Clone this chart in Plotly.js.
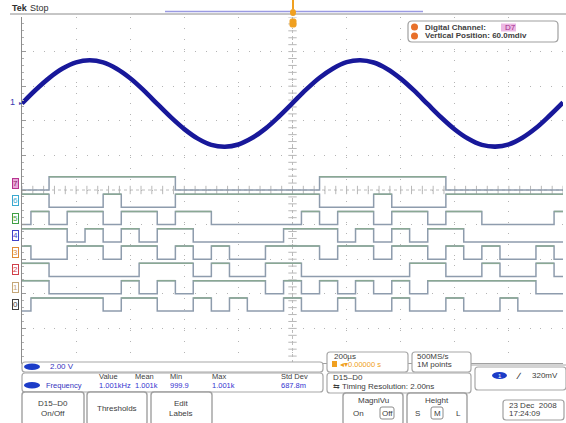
<!DOCTYPE html>
<html>
<head>
<meta charset="utf-8">
<script src="https://cdn.plot.ly/plotly-3.0.1.min.js"></script>
<style>
  html, body { margin: 0; padding: 0; background: #ffffff; }
  #scope { width: 566px; height: 423px; }
</style>
</head>
<body>
<div id="scope"></div>
<script>
// ---- Channel 1 (analog), 200 µs/div, 2.00 V/div ----
const ch1TimesMs = [];
for (let i = 0; i <= 40; i++) ch1TimesMs.push(-1 + i * 0.05);
const ch1Volts = [0.00, 0.78, 1.47, 2.02, 2.38, 2.50, 2.38, 2.01, 1.46, 0.76,
                  -0.02, -0.79, -1.48, -2.03, -2.39, -2.50, -2.37, -2.00, -1.45, -0.75,
                  0.02, 0.80, 1.49, 2.03, 2.39, 2.50, 2.37, 2.00, 1.44, 0.74,
                  -0.04, -0.81, -1.50, -2.04, -2.39, -2.49, -2.36, -1.98, -1.42, -0.71, 0.06];
const ch1VoltsPerDiv = 2.0;
const ch1PositionDiv = 2.5;

// ---- Digital channels D7..D0: level at the left edge, then edge times (µs) ----
const digitalNames = ['7', '6', '5', '4', '3', '2', '1', '0'];
const digitalColors = ['#b8338f', '#3aa9d0', '#3f9f45', '#4343c8', '#e08a35', '#d0404a', '#c4a678', '#404040'];
const d7Start = 0, d7Edges = [-900, -433, 100, 567];
const d6Start = 1, d6Edges = [-900, -700, -633, -433, 100, 300, 367, 567];
const d5Start = 0, d5Edges = [-967, -900, -833, -700, -633, -500, -433, -300, 33, 100, 167, 300, 367, 500, 567, 700, 967];
const d4Start = 1, d4Edges = [-833, -767, -700, -633, -567, -500, -367, -33, 167, 233, 300, 367, 433, 500, 633];
const d3Start = 1, d3Edges = [-967, -833, -700, -633, -500, -433, -367, -300, -233, -100, 100, 167, 300, 367, 500, 567, 633, 700, 767, 900, 967];
const d2Start = 1, d2Edges = [-900, -567, -367, -300, -233, -100, 33, 433, 567, 700, 767, 900, 967];
const d1Start = 1, d1Edges = [-900, -633, -567, -500, -433, -367, -100, -33, 33, 100, 167, 233, 300, 367, 433, 500, 900];
const d0Start = 0, d0Edges = [-967, -700, -633, -500, -367, -300, -233, -167, -33, 33, 167, 233, 367, 433, 567, 633, 767, 833];
const digitalStarts = [d7Start, d6Start, d5Start, d4Start, d3Start, d2Start, d1Start, d0Start];
const digitalEdges = [d7Edges, d6Edges, d5Edges, d4Edges, d3Edges, d2Edges, d1Edges, d0Edges];

// ---- Measurement readout ----
const measHeaders = ['Value', 'Mean', 'Min', 'Max', 'Std Dev'];
const measValues = ['1.001kHz', '1.001k', '999.9', '1.001k', '687.8m'];

// ---- display geometry (pixels) ----
const L = 22, R = 563, T = 17, B = 363;
const FONT = 'Liberation Sans, Arial, sans-serif';
const px = x => (x - L) / (R - L);
const py = y => (B - y) / (B - T);
const laneStep = 0.5, laneSwing = 0.38;

const traces = [];

// centre crosshair minor ticks
const vtY = [], vtX = [];
for (let i = 0; i <= 50; i++) { vtY.push(-5 + i * 0.2); vtX.push(0); }
traces.push({x: vtX, y: vtY, mode: 'markers', hoverinfo: 'skip',
  marker: {symbol: 'line-ew', size: 6, line: {color: '#b8b8b8', width: 1}}});
const htX = [], htY = [];
for (let i = 0; i <= 50; i++) { htX.push(-1 + i * 0.04); htY.push(0); }
traces.push({x: htX, y: htY, mode: 'markers', hoverinfo: 'skip',
  marker: {symbol: 'line-ns', size: 6, line: {color: '#b8b8b8', width: 1}}});

// digital step waveforms
digitalEdges.forEach((edges, i) => {
  const low = -i * laneStep;
  let lvl = digitalStarts[i];
  const xs = [-1], ys = [low + lvl * laneSwing];
  const hx = [], hy = [];
  let segStart = -1;
  edges.forEach(e => {
    const t = e / 1000;
    if (lvl === 1) { hx.push(segStart, t, null); hy.push(low + laneSwing, low + laneSwing, null); }
    lvl = 1 - lvl;
    xs.push(t); ys.push(low + lvl * laneSwing);
    segStart = t;
  });
  if (lvl === 1) { hx.push(segStart, 1, null); hy.push(low + laneSwing, low + laneSwing, null); }
  xs.push(1); ys.push(low + lvl * laneSwing);
  traces.push({x: xs, y: ys, mode: 'lines', line: {shape: 'hv', color: '#8e9cad', width: 1.5}, hoverinfo: 'skip'});
  traces.push({x: hx, y: hy, mode: 'lines', line: {color: '#8aa894', width: 1.5}, hoverinfo: 'skip', connectgaps: false});
});

// channel 1 sine
traces.push({
  x: ch1TimesMs,
  y: ch1Volts.map(v => ch1PositionDiv + v / ch1VoltsPerDiv),
  mode: 'lines', line: {color: '#18189a', width: 4.6, shape: 'spline', smoothing: 1.0},
  hoverinfo: 'skip'
});

// ---- decorations ----
function rrect(x0, y0, x1, y1, r, color, width, fill) {
  const P = (x, y) => px(x).toFixed(5) + ',' + py(y).toFixed(5);
  const d = `M${P(x0 + r, y0)} L${P(x1 - r, y0)} Q${P(x1, y0)} ${P(x1, y0 + r)} L${P(x1, y1 - r)} Q${P(x1, y1)} ${P(x1 - r, y1)} L${P(x0 + r, y1)} Q${P(x0, y1)} ${P(x0, y1 - r)} L${P(x0, y0 + r)} Q${P(x0, y0)} ${P(x0 + r, y0)} Z`;
  return {type: 'path', xref: 'paper', yref: 'paper', path: d, line: {color: color, width: width}, fillcolor: fill || 'rgba(0,0,0,0)', layer: 'above'};
}
function oval(x0, y0, x1, y1, fill) {
  return {type: 'circle', xref: 'paper', yref: 'paper', x0: px(x0), x1: px(x1), y0: py(y1), y1: py(y0), fillcolor: fill, line: {width: 0}};
}
function pline(x0, y0, x1, y1, color, width) {
  return {type: 'line', xref: 'paper', yref: 'paper', x0: px(x0), x1: px(x1), y0: py(y0), y1: py(y1), line: {color: color, width: width}};
}
function txt(x, y, text, o) {
  const base = {xref: 'paper', yref: 'paper', x: px(x), y: py(y), text: text, showarrow: false,
    xanchor: 'left', yanchor: 'middle', font: {family: FONT, size: 8, color: '#3c3c3c'}};
  return Object.assign(base, o || {});
}

const shapes = [
  // centre crosshair
  {type: 'line', xref: 'x', yref: 'paper', x0: 0, x1: 0, y0: 0, y1: 1, line: {color: '#bcbcbc', width: 1, dash: 'dot'}, layer: 'below'},
  {type: 'line', xref: 'paper', yref: 'y', x0: 0, x1: 1, y0: 0, y1: 0, line: {color: '#bcbcbc', width: 1, dash: 'dot'}, layer: 'below'},
  // screen top border and record view bar
  pline(10, 14, 566, 14, '#8c8c8c', 1),
  pline(165, 11.5, 423, 11.5, '#9a9ae2', 1.6),
  // trigger position marker
  pline(293, 0, 293, 9, '#f0a020', 2),
  oval(290, 9, 296, 16, '#f0a020'),
  rrect(290, 19, 296, 27, 1.5, '#f0a020', 1, '#f0a020'),
  // info box
  rrect(408, 21, 558, 42, 4, '#a0a0a0', 1.2, '#ffffff'),
  oval(411, 23.5, 418, 30.5, '#e8702a'),
  oval(411, 32.5, 418, 39.5, '#e8702a'),
  {type: 'rect', xref: 'paper', yref: 'paper', x0: px(501), x1: px(516), y0: py(31.5), y1: py(23.5), fillcolor: '#ecb8e4', line: {width: 0}},
  // bottom readouts
  rrect(22, 362, 323, 372, 3, '#a8a8a8', 1.2, '#ffffff'),
  oval(24, 363.5, 40, 370, '#1c3cc8'),
  rrect(22, 373, 323, 392, 3, '#a8a8a8', 1.2, '#ffffff'),
  oval(24, 382, 40, 388.5, '#1c3cc8'),
  rrect(327, 352, 408, 372, 3, '#a8a8a8', 1.2, '#ffffff'),
  {type: 'rect', xref: 'paper', yref: 'paper', x0: px(332), x1: px(337), y0: py(367), y1: py(361), fillcolor: '#f0a020', line: {width: 0}},
  rrect(412, 352, 471, 372, 3, '#a8a8a8', 1.2, '#ffffff'),
  rrect(327, 373, 471, 393, 3, '#a8a8a8', 1.2, '#ffffff'),
  pline(471, 365, 566, 365, '#a8a8a8', 1),
  rrect(475, 367, 566, 390, 3, '#a8a8a8', 1.2, '#ffffff'),
  oval(492, 372, 507, 379, '#1c3cc8'),
  // soft-key buttons
  rrect(22, 392, 84, 425, 3, '#a0a0a0', 1.4, '#ffffff'),
  rrect(87, 392, 147, 425, 3, '#a0a0a0', 1.4, '#ffffff'),
  rrect(151, 392, 212, 425, 3, '#a0a0a0', 1.4, '#ffffff'),
  rrect(343, 393, 403, 425, 3, '#a0a0a0', 1.4, '#ffffff'),
  rrect(380, 407, 394, 419, 2, '#8c8c8c', 1, '#ffffff'),
  rrect(407, 393, 467, 425, 3, '#a0a0a0', 1.4, '#ffffff'),
  rrect(431, 407, 443, 419, 2, '#8c8c8c', 1, '#ffffff'),
  rrect(503, 400, 564, 420, 3, '#a0a0a0', 1.2, '#ffffff')
];

const annotations = [
  txt(10, 8, '<b>Tek</b>', {font: {family: FONT, size: 9, color: '#303030'}}),
  txt(28, 8, 'Stop', {font: {family: FONT, size: 9, color: '#303030'}}),
  txt(423, 27.5, '<b>Digital Channel:</b>', {font: {family: FONT, size: 8, color: '#404040'}}),
  txt(503, 27.5, 'D7', {font: {family: FONT, size: 8, color: '#a02a88'}}),
  txt(423, 36, '<b>Vertical Position: 60.0mdiv</b>', {font: {family: FONT, size: 8, color: '#404040'}}),
  txt(17, 102.5, '1', {xanchor: 'right', font: {family: FONT, size: 9, color: '#3a3ab0'}}),
  txt(17, 103, '▸', {xanchor: 'left', font: {family: FONT, size: 6, color: '#3a3ab0'}}),
  txt(48, 366.5, '2.00 V', {font: {family: FONT, size: 8, color: '#3434c0'}}),
  txt(44, 385.5, 'Frequency', {font: {family: FONT, size: 7.5, color: '#3434c0'}}),
  txt(332, 356.5, '200µs', {font: {family: FONT, size: 8, color: '#3c3c3c'}}),
  txt(338, 364.5, '◂▾0.00000 s', {font: {family: FONT, size: 7.5, color: '#f0a020'}}),
  txt(415, 356.5, '500MS/s', {font: {family: FONT, size: 8, color: '#3c3c3c'}}),
  txt(415, 364.5, '1M points', {font: {family: FONT, size: 8, color: '#3c3c3c'}}),
  txt(331, 377.5, 'D15–D0', {font: {family: FONT, size: 8, color: '#3c3c3c'}}),
  txt(331, 386.5, '⇆ Timing Resolution: 2.00ns', {font: {family: FONT, size: 8, color: '#3c3c3c'}}),
  txt(499.5, 375.5, '1', {xanchor: 'center', font: {family: FONT, size: 6, color: '#ffffff'}}),
  txt(514, 375.5, '<b>∕</b>', {font: {family: FONT, size: 9, color: '#303030'}}),
  txt(530, 375.5, '320mV', {font: {family: FONT, size: 8, color: '#3c3c3c'}}),
  txt(53, 403, 'D15–D0', {xanchor: 'center', font: {family: FONT, size: 8, color: '#3c3c3c'}}),
  txt(53, 413, 'On/Off', {xanchor: 'center', font: {family: FONT, size: 8, color: '#3c3c3c'}}),
  txt(117, 408, 'Thresholds', {xanchor: 'center', font: {family: FONT, size: 8, color: '#3c3c3c'}}),
  txt(181, 403, 'Edit', {xanchor: 'center', font: {family: FONT, size: 8, color: '#3c3c3c'}}),
  txt(181, 413.5, 'Labels', {xanchor: 'center', font: {family: FONT, size: 8, color: '#3c3c3c'}}),
  txt(373, 401, 'MagniVu', {xanchor: 'center', font: {family: FONT, size: 8, color: '#3c3c3c'}}),
  txt(358, 413, 'On', {xanchor: 'center', font: {family: FONT, size: 8, color: '#3c3c3c'}}),
  txt(387, 413, 'Off', {xanchor: 'center', font: {family: FONT, size: 8, color: '#3c3c3c'}}),
  txt(437, 401, 'Height', {xanchor: 'center', font: {family: FONT, size: 8, color: '#3c3c3c'}}),
  txt(417, 413, 'S', {xanchor: 'center', font: {family: FONT, size: 8, color: '#3c3c3c'}}),
  txt(437, 413, 'M', {xanchor: 'center', font: {family: FONT, size: 8, color: '#3c3c3c'}}),
  txt(458, 413, 'L', {xanchor: 'center', font: {family: FONT, size: 8, color: '#3c3c3c'}}),
  txt(507, 405, '23 Dec  2008', {font: {family: FONT, size: 8, color: '#3c3c3c'}}),
  txt(507, 413.5, '17:24:09', {font: {family: FONT, size: 8, color: '#3c3c3c'}})
];

// measurement header + values
const measX = [97, 133, 168, 210, 279];
measHeaders.forEach((h, i) => annotations.push(txt(measX[i], 376.5, h, {font: {family: FONT, size: 7.5, color: '#3c3c3c'}})));
measValues.forEach((v, i) => annotations.push(txt(measX[i], 385.5, v, {font: {family: FONT, size: 7.5, color: '#3434d0'}})));

// digital channel labels on the left edge
digitalNames.forEach((n, i) => {
  const sel = i === 0;
  annotations.push({
    xref: 'paper', yref: 'y', x: px(15), y: -i * laneStep + laneSwing / 2, text: n, showarrow: false,
    xanchor: 'center', yanchor: 'middle',
    font: {family: FONT, size: 8, color: sel ? '#8a1a6a' : digitalColors[i]},
    bgcolor: sel ? '#e8a8d8' : '#ffffff', bordercolor: digitalColors[i], borderwidth: 1, borderpad: 0
  });
});

const layout = {
  width: 566, height: 423,
  margin: {l: L, r: 566 - R, t: T, b: 423 - B},
  paper_bgcolor: '#ffffff', plot_bgcolor: '#ffffff',
  showlegend: false,
  xaxis: {
    range: [-1, 1], dtick: 0.2, tick0: -1, showticklabels: false, ticks: '',
    showgrid: true, gridcolor: '#b4b4b4', gridwidth: 1, griddash: '1px,9.8px',
    zeroline: false, showline: true, linecolor: '#a0a0a0', linewidth: 1, fixedrange: true
  },
  yaxis: {
    range: [-5, 5], dtick: 1, tick0: -5, showticklabels: false,
    ticks: 'inside', ticklen: 4, tickcolor: '#9a9a9a',
    minor: {ticks: 'inside', dtick: 0.2, ticklen: 2, tickcolor: '#b0b0b0', showgrid: false},
    showgrid: true, gridcolor: '#b4b4b4', gridwidth: 1, griddash: '1px,9.8px',
    zeroline: false, showline: true, linecolor: '#8c8c8c', linewidth: 1, fixedrange: true
  },
  shapes: shapes,
  annotations: annotations
};

Plotly.newPlot('scope', traces, layout, {displayModeBar: false, staticPlot: true});
</script>
</body>
</html>
